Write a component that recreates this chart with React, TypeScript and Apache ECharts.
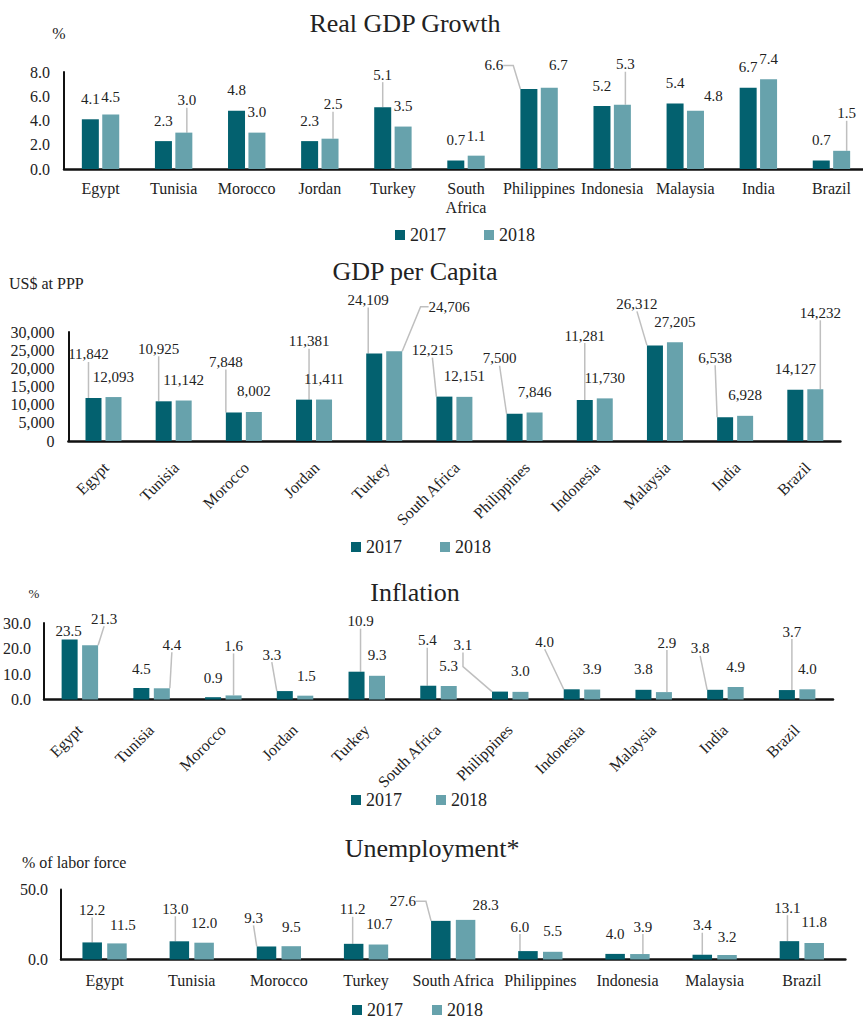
import React, { useEffect, useRef } from "react";
import * as echarts from "echarts";

// ---------- data ----------
const countries = [
  "Egypt", "Tunisia", "Morocco", "Jordan", "Turkey", "South Africa",
  "Philippines", "Indonesia", "Malaysia", "India", "Brazil",
];
const unempCountries = [
  "Egypt", "Tunisia", "Morocco", "Turkey", "South Africa",
  "Philippines", "Indonesia", "Malaysia", "Brazil",
];

const growth2017 = [4.1, 2.3, 4.8, 2.3, 5.1, 0.7, 6.6, 5.2, 5.4, 6.7, 0.7];
const growth2018 = [4.5, 3.0, 3.0, 2.5, 3.5, 1.1, 6.7, 5.3, 4.8, 7.4, 1.5];

const gdppc2017 = [11842, 10925, 7848, 11381, 24109, 12215, 7500, 11281, 26312, 6538, 14127];
const gdppc2018 = [12093, 11142, 8002, 11411, 24706, 12151, 7846, 11730, 27205, 6928, 14232];

const infl2017 = [23.5, 4.5, 0.9, 3.3, 10.9, 5.4, 3.1, 4.0, 3.8, 3.8, 3.7];
const infl2018 = [21.3, 4.4, 1.6, 1.5, 9.3, 5.3, 3.0, 3.9, 2.9, 4.9, 4.0];

const unemp2017 = [12.2, 13.0, 9.3, 11.2, 27.6, 6.0, 4.0, 3.4, 13.1];
const unemp2018 = [11.5, 12.0, 9.5, 10.7, 28.3, 5.5, 3.9, 3.2, 11.8];

const years = ["2017", "2018"];

// ---------- label placement (pixel nudges from the default "top" spot) ----------
type Nudge = [number, number];
const growthNudge17: Nudge[] = [[0, 0], [0, 0], [0, 0], [0, 0], [0, -12], [0, 0], [-35, -3], [0, 1], [0, 0], [0, 0], [0, 0]];
const growthNudge18: Nudge[] = [[0, 3], [3, -12], [0, 0], [3, -14], [0, 0], [0, 1], [9, -2], [3, -20], [18, 6], [0, 0], [5, -17]];
const gdppcNudge17: Nudge[] = [[-5, -23], [-5, -32], [-8, -30], [5, -38], [-6, -33], [-12, -26], [-15, -35], [0, -44], [-18, -21], [-10, -39], [0, 0]];
const gdppcNudge18: Nudge[] = [[0, 0], [0, 0], [0, 0], [0, 0], [55, -24], [0, 0], [0, 0], [0, 0], [0, 0], [0, 0], [5, -56]];
const inflNudge17: Nudge[] = [[-1, 12], [0, 1], [0, 1], [-13, -16], [4, -30], [-1, -25], [-37, -26], [-27, -27], [0, 0], [-15, -21], [5, -38]];
const inflNudge18: Nudge[] = [[14, -6], [10, -23], [0, -29], [1, 1], [0, 0], [0, 1], [0, 0], [0, 0], [3, -29], [0, 0], [0, 0]];
const unempNudge17: Nudge[] = [[0, -12], [-4, -12], [-13, -8], [-1, -14], [-38, 1], [-8, -4], [0, 1], [0, -9], [-2, -13]];
const unempNudge18: Nudge[] = [[6, 2], [0, 1], [0, 1], [1, 0], [20, 6], [0, 0], [3, -7], [0, 2], [0, 0]];

// leader lines: bar index -> length of the short first segment
const growthLead17: Record<number, number> = { 4: 0, 6: 10 };
const growthLead18: Record<number, number> = { 1: 0, 3: 0, 7: 0, 10: 0 };
const gdppcLead17: Record<number, number> = { 0: 0, 1: 0, 2: 0, 3: 0, 4: 0, 5: 0, 6: 0, 7: 0, 8: 0, 9: 0 };
const gdppcLead18: Record<number, number> = { 4: 8, 10: 0 };
const inflLead17: Record<number, number> = { 3: 0, 4: 0, 5: 0, 6: 14, 7: 0, 9: 0, 10: 0 };
const inflLead18: Record<number, number> = { 0: 0, 1: 0, 2: 0, 8: 0 };
const unempLead17: Record<number, number> = { 0: 0, 1: 0, 2: 0, 3: 0, 4: 10, 5: 0, 7: 0, 8: 0 };
const unempLead18: Record<number, number> = { 6: 0 };

// ---------- styling ----------
const FONT = "'Liberation Serif', 'Times New Roman', Times, serif";
const INK = "#222222";
const C2017 = "#03616F";
const C2018 = "#67A2AC";
const LEADER = "#BFBFBF";

const oneDec = (v: number) => Number(v).toFixed(1);
const thousands = (v: number) => Number(v).toLocaleString("en-US");

function barSeries(
  name: string,
  color: string,
  axis: number,
  values: number[],
  fmt: (v: number) => string,
  nudges: Nudge[],
  leaders: Record<number, number>,
  barWidth: number,
  barGap: string
) {
  return {
    type: "bar",
    name,
    xAxisIndex: axis,
    yAxisIndex: axis,
    barWidth,
    barGap,
    itemStyle: { color },
    emphasis: { disabled: true },
    data: values.map((v, i) => ({
      value: v,
      labelLine:
        leaders[i] !== undefined
          ? { show: true, length2: leaders[i], lineStyle: { color: LEADER, width: 1.5 } }
          : { show: false },
    })),
    label: {
      show: true,
      position: "top",
      distance: 13,
      fontFamily: FONT,
      fontSize: 15,
      color: INK,
      formatter: (p: any) => fmt(p.value),
    },
    labelLine: { show: false, lineStyle: { color: LEADER, width: 1.5 } },
    labelLayout: (p: any) => {
      const n = nudges[p.dataIndex] || [0, 0];
      return { dx: n[0], dy: n[1] };
    },
  };
}

function catAxis(grid: number, data: string[], opts: any) {
  return {
    type: "category",
    gridIndex: grid,
    data,
    axisTick: { show: false },
    axisLine: { show: true, lineStyle: { color: "#111", width: 2.5 } },
    axisLabel: {
      interval: 0,
      fontFamily: FONT,
      fontSize: 16,
      color: INK,
      lineHeight: 19,
      ...opts,
    },
  };
}

function valAxis(grid: number, max: number, interval: number, fmt: (v: number) => string, margin: number) {
  return {
    type: "value",
    gridIndex: grid,
    min: 0,
    max,
    interval,
    splitLine: { show: false },
    axisTick: { show: false },
    axisLine: { show: true, lineStyle: { color: "#111", width: 2 } },
    axisLabel: { fontFamily: FONT, fontSize: 16, color: INK, margin, formatter: fmt },
  };
}

function txt(x: number, y: number, text: string, size: number, align = "center") {
  return {
    type: "text",
    x,
    y,
    silent: true,
    style: { text, fontFamily: FONT, fontSize: size, fill: INK, align, verticalAlign: "middle" },
  };
}

function legend(left: number, top: number, gap: number) {
  return {
    left,
    top,
    padding: 0,
    orient: "horizontal",
    icon: "rect",
    itemWidth: 10,
    itemHeight: 10,
    itemGap: gap,
    selectedMode: false,
    data: years,
    textStyle: { fontFamily: FONT, fontSize: 18, color: INK },
  };
}

const option: any = {
  animation: false,
  backgroundColor: "#ffffff",
  textStyle: { fontFamily: FONT },
  grid: [
    { left: 64, top: 72, width: 804, height: 97, containLabel: false, outerBoundsMode: "none" },
    { left: 68.4, top: 332, width: 772, height: 109, containLabel: false, outerBoundsMode: "none" },
    { left: 44, top: 623, width: 789, height: 76.5, containLabel: false, outerBoundsMode: "none" },
    { left: 61, top: 889.5, width: 784.4, height: 70, containLabel: false, outerBoundsMode: "none" },
  ],
  xAxis: [
    catAxis(0, countries, { margin: 10, formatter: (v: string) => v.replace(" ", "\n") }),
    catAxis(1, countries, { margin: 13, rotate: 45, verticalAlign: "top", padding: [0, 6, 0, 0] }),
    catAxis(2, countries, { margin: 14, rotate: 45, verticalAlign: "top", padding: [0, 10, 0, 0] }),
    catAxis(3, unempCountries, { margin: 11 }),
  ],
  yAxis: [
    valAxis(0, 8, 2, oneDec, 14),
    valAxis(1, 30000, 5000, thousands, 14),
    valAxis(2, 30, 10, oneDec, 13),
    valAxis(3, 50, 50, oneDec, 13),
  ],
  legend: [legend(395, 226, 38), legend(351, 538, 38), legend(351, 791, 34), legend(352, 1001, 29)],
  graphic: [
    txt(405, 23, "Real GDP Growth", 26),
    txt(59, 33, "%", 16),
    txt(415, 271, "GDP per Capita", 26),
    txt(9, 283, "US$ at PPP", 16, "left"),
    txt(415, 592, "Inflation", 26),
    txt(34, 593, "%", 13),
    txt(432, 848, "Unemployment*", 26),
    txt(22, 862, "% of labor force", 16, "left"),
  ],
  series: [
    barSeries("2017", C2017, 0, growth2017, oneDec, growthNudge17, growthLead17, 17, "20%"),
    barSeries("2018", C2018, 0, growth2018, oneDec, growthNudge18, growthLead18, 17, "20%"),
    barSeries("2017", C2017, 1, gdppc2017, thousands, gdppcNudge17, gdppcLead17, 16, "25%"),
    barSeries("2018", C2018, 1, gdppc2018, thousands, gdppcNudge18, gdppcLead18, 16, "25%"),
    barSeries("2017", C2017, 2, infl2017, oneDec, inflNudge17, inflLead17, 16, "28%"),
    barSeries("2018", C2018, 2, infl2018, oneDec, inflNudge18, inflLead18, 16, "28%"),
    barSeries("2017", C2017, 3, unemp2017, oneDec, unempNudge17, unempLead17, 19.5, "27%"),
    barSeries("2018", C2018, 3, unemp2018, oneDec, unempNudge18, unempLead18, 19.5, "27%"),
  ],
};

export default function App() {
  const ref = useRef<HTMLDivElement>(null);
  useEffect(() => {
    if (!ref.current) return;
    const chart = echarts.init(ref.current, null, { renderer: "svg" });
    chart.setOption(option);
    return () => chart.dispose();
  }, []);
  return (
    <div
      ref={ref}
      style={{ position: "absolute", left: 0, top: 0, width: 863, height: 1021, background: "#fff" }}
    />
  );
}
